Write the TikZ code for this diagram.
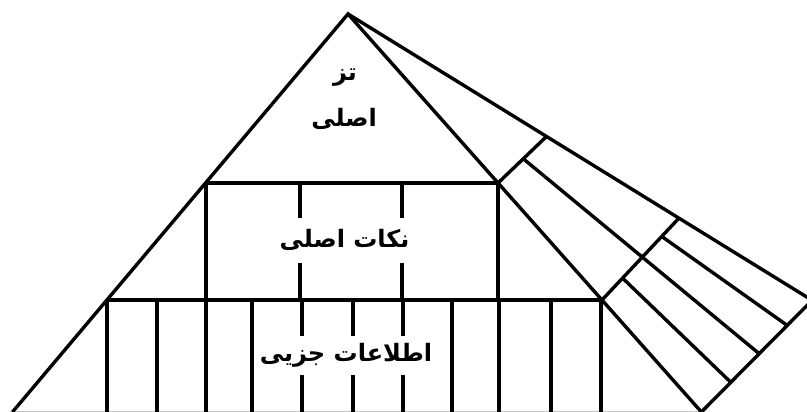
\documentclass[tikz,border=0pt]{standalone}
\usepackage{fontspec}
\newfontfamily\arabicfont[Script=Arabic]{DejaVu Sans}
\TeXXeTstate=1
\begin{document}
\begin{tikzpicture}[x=1pt,y=-1pt,
  ln/.style={line width=3.4pt,line join=miter,line cap=butt},
  lbl/.style={font=\arabicfont\bfseries\fontsize{24}{28}\selectfont,inner sep=0pt}]
\useasboundingbox (0,0) rectangle (807,412);
% key points
\coordinate (A) at (348,14);
\coordinate (L1) at (205.5,183);
\coordinate (L2) at (106.9,300);
\coordinate (L3) at (12.5,412);
\coordinate (S1) at (498,183);
\coordinate (S2) at (602,300);
\coordinate (S3) at (701.4,412);
% fan points
\coordinate (O1) at (546.5,136.5);
\coordinate (B1) at (523.3,158.8);
\coordinate (O2) at (678.9,218.2);
\coordinate (A2) at (661.7,236.4);
\coordinate (B2) at (642.3,257.1);
\coordinate (C2) at (622.6,278.1);
\coordinate (O3) at (812.1,300.3);
\coordinate (A3) at (787.2,325.4);
\coordinate (B3) at (759.2,353.7);
\coordinate (C3) at (730.8,382.3);
% faint base line
\draw[gray!45,line width=1pt] (10,411) -- (700,411);
% pyramid sides
\draw[ln] (L3) -- (A) -- (S3);
% tiers
\draw[ln] (L1) -- (S1);
\draw[ln] (L2) -- (S2);
% middle tier verticals
\draw[ln] (206,183) -- (206,300);
\draw[ln] (498,183) -- (498,300);
\foreach \x in {300,402}{
  \draw[ln] (\x,183) -- (\x,218);
  \draw[ln] (\x,263) -- (\x,300);
}
% bottom tier verticals
\foreach \x in {107,157,206,252,452,499,551,601}{
  \draw[ln] (\x,300) -- (\x,412);
}
\foreach \x in {302,353,403}{
  \draw[ln] (\x,300) -- (\x,336);
  \draw[ln] (\x,375) -- (\x,412);
}
% fan
\draw[ln] (A) -- (O3);
\draw[ln] (S1) -- (O1);
\draw[ln] (S2) -- (O2);
\draw[ln] (S3) -- (O3);
\draw[ln] (B1) -- (B3);
\draw[ln] (A2) -- (A3);
\draw[ln] (C2) -- (C3);
% labels
\node[lbl] (t1) at (345,78) {\beginR تز\endR};
\node[lbl] (t2) at (344,119) {\beginR اصلی\endR};
\node[lbl] (t3) at (344.5,240) {\beginR نکات اصلی\endR};
\node[lbl] (t4) at (346,355) {\beginR اطلاعات جزیی\endR};
\end{tikzpicture}
\end{document}
